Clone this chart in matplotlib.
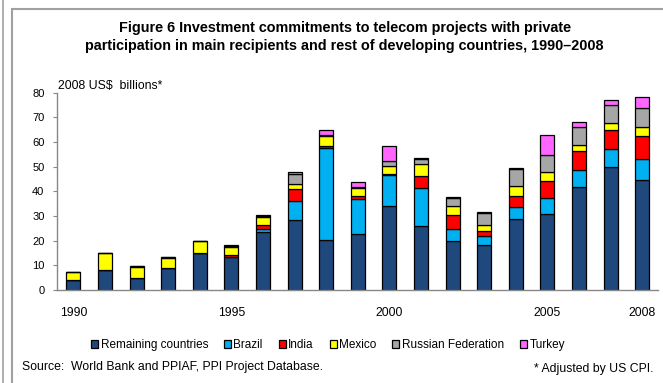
import matplotlib
matplotlib.use("Agg")
import matplotlib.pyplot as plt
from matplotlib.patches import Rectangle
from matplotlib.lines import Line2D
import numpy as np

plt.rcParams['font.family'] = ['Liberation Sans', 'DejaVu Sans']

years = list(range(1990, 2009))
tick_years = [1990, 1995, 2000, 2005, 2008]

series_names = ["Remaining countries", "Brazil", "India", "Mexico",
                "Russian Federation", "Turkey"]
colors = ["#1F497D", "#00B0F0", "#FF0000", "#FFFF00", "#A6A6A6", "#FF66FF"]

# US$ billions (2008)
remaining = [3.9, 8.1, 4.9, 9.0, 15.2, 13.5, 23.6, 28.4, 20.2, 22.9,
             34.0, 25.9, 19.8, 18.2, 28.6, 31.0, 41.9, 49.7, 44.5]
brazil = [0, 0, 0, 0, 0, 0, 1.1, 7.7, 37.3, 13.9,
          12.5, 15.6, 5.0, 3.6, 5.2, 6.5, 6.6, 7.4, 8.5]
india = [0, 0, 0, 0, 0, 0.8, 1.8, 5.0, 1.0, 1.3,
         0.7, 4.6, 5.5, 2.2, 4.2, 6.7, 7.7, 7.6, 9.5]
mexico = [3.6, 6.7, 4.5, 4.1, 4.5, 3.2, 3.1, 2.0, 3.8, 3.1,
          3.1, 5.1, 3.7, 2.5, 4.0, 3.8, 2.7, 3.1, 3.5]
russia = [0, 0.3, 0.3, 0.4, 0, 0.5, 0.6, 4.1, 0.6, 0.6,
          2.1, 1.8, 3.5, 4.9, 7.1, 6.9, 7.0, 7.3, 7.9]
turkey = [0, 0, 0, 0, 0.3, 0.3, 0.4, 0.6, 2.1, 1.9,
          6.1, 0.4, 0.2, 0.4, 0.5, 7.8, 2.1, 2.1, 4.3]

data = [remaining, brazil, india, mexico, russia, turkey]

fig = plt.figure(figsize=(6.63, 3.83), dpi=100)
ax = fig.add_axes([57 / 663, 1 - 290 / 383, (658 - 57) / 663, (290 - 92.7) / 383])

x = np.arange(len(years))
bottom = np.zeros(len(years))
for name, vals, c in zip(series_names, data, colors):
    ax.bar(x, vals, width=0.44, bottom=bottom, color=c, edgecolor="black",
           linewidth=0.9, label=name)
    bottom += np.array(vals)

ax.set_xlim(-0.52, 18.5)
ax.set_ylim(0, 80)
ax.set_yticks(range(0, 81, 10))
ax.set_xticks([years.index(y) for y in tick_years])
ax.set_xticklabels([str(y) for y in tick_years])
ax.tick_params(axis="x", length=0, pad=12, labelsize=8.7)
ax.tick_params(axis="y", length=3, color="#888888", pad=6, labelsize=8)
for s in ["top", "right"]:
    ax.spines[s].set_visible(False)
for s in ["left", "bottom"]:
    ax.spines[s].set_color("#888888")
    ax.spines[s].set_linewidth(1.0)

ax.text(0.002, 80.3, "2008 US$  billions*", transform=ax.get_yaxis_transform(),
        fontsize=8.8, va="bottom", ha="left")

fig.text(0.52, 1 - 28 / 383, "Figure 6 Investment commitments to telecom projects with private",
         ha="center", va="center", fontsize=10.4, fontweight="bold")
fig.text(0.52, 1 - 46 / 383,
         "participation in main recipients and rest of developing countries, 1990\u20132008",
         ha="center", va="center", fontsize=10.4, fontweight="bold")

leg = ax.legend(loc="center", bbox_to_anchor=(328 / 663, 1 - 345 / 383),
                bbox_transform=fig.transFigure, ncol=6, frameon=False,
                fontsize=8.5, handlelength=0.6, handleheight=0.6,
                handletextpad=0.2, columnspacing=1.35, borderaxespad=0)

fig.text(22 / 663, 1 - 367 / 383, "Source:  World Bank and PPIAF, PPI Project Database.",
         ha="left", va="center", fontsize=8.8)
fig.text(653 / 663, 1 - 369 / 383, "* Adjusted by US CPI.",
         ha="right", va="center", fontsize=8.8)

# frame lines around the figure, as in the source document
fig.add_artist(Line2D([3 / 663, 3 / 663], [0, 1], color="#A0A0A0", linewidth=1.2))
fig.add_artist(Rectangle((12 / 663, -0.1), 1.0, (383 - 9) / 383 + 0.1,
                         transform=fig.transFigure, fill=False,
                         edgecolor="#A0A0A0", linewidth=1.5))

fig.savefig("out.png", dpi=100)
